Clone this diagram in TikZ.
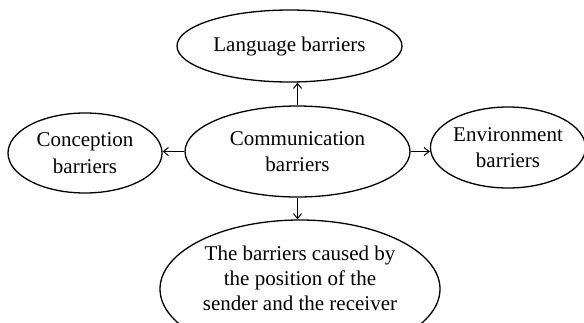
\documentclass[tikz,border=0pt]{standalone}
\usepackage{fontspec}
\setmainfont{Liberation Serif}
\usetikzlibrary{shapes.geometric,arrows.meta}
\tikzset{
  oval/.style={draw=black, line width=1.3pt, ellipse, inner sep=0pt, align=center,
    font=\fontsize{21}{26.5}\selectfont},
  txt/.style={inner sep=0pt, align=center, font=\fontsize{21}{25}\selectfont},
  arr/.style={line width=1.3pt, -{Straight Barb[length=5pt,width=8pt,line width=1pt]}}
}
\begin{document}
\begin{tikzpicture}[x=1pt,y=-1pt]
\useasboundingbox (0,0) rectangle (584,322);
\clip (0,0) rectangle (584,322);
\node[oval, minimum width=225pt, minimum height=72pt] (lang) at (289.5,46) {Language barriers};
\node[oval, minimum width=225pt, minimum height=91pt] (comm) at (297.5,151.5) {Communication\\barriers};
\node[oval, minimum width=154pt, minimum height=80pt] (conc) at (85,153) {Conception\\barriers};
\node[oval, minimum width=150pt, minimum height=81pt] (env) at (508,147.5) {Environment\\barriers};
\node[oval, minimum width=280pt, minimum height=138pt] (bot) at (300,289) {};
\node[txt] (bottxt) at (300,278) {The barriers caused by\\the position of the\\sender and the receiver};
\draw[arr] (comm.north) -- (comm.north |- lang.south);
\draw[arr] (comm.west) -- (comm.west -| conc.east);
\draw[arr] (comm.east) -- (comm.east -| env.west);
\draw[arr] (comm.south) -- (comm.south |- bot.north);
\end{tikzpicture}
\end{document}
